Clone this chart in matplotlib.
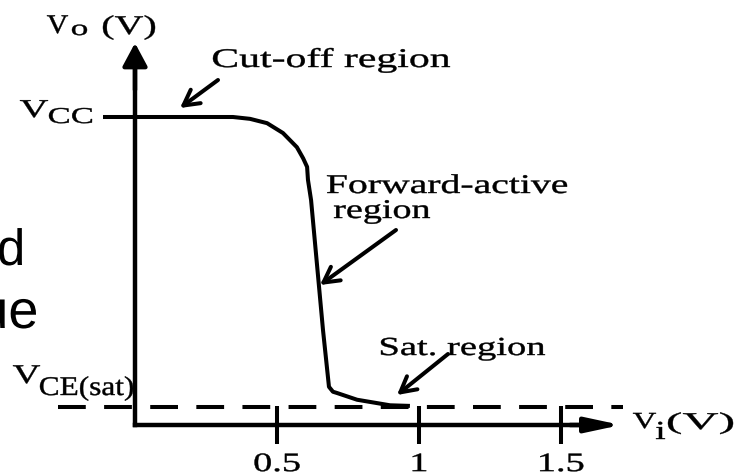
import matplotlib
matplotlib.use('Agg')
import matplotlib.pyplot as plt
from matplotlib.patheffects import AbstractPathEffect
from matplotlib.transforms import Affine2D
from matplotlib.textpath import TextPath
from matplotlib.font_manager import FontProperties

# ---------------- data ----------------
vi_volts = [0.0, 0.345, 0.405, 0.465, 0.521, 0.570, 0.592, 0.606, 0.609, 0.620,
            0.662, 0.683, 0.697, 0.711, 0.782, 0.898, 0.968]
vo_volts = [5.0, 5.0, 4.97, 4.90, 4.74, 4.51, 4.33, 4.19, 3.98, 3.65,
            1.54, 0.62, 0.54, 0.52, 0.41, 0.32, 0.31]
VCC = 5.0
VCE_SAT = 0.3
x_ticks = [0.5, 1.0, 1.5]
x_tick_labels = ['0.5', '1', '1.5']

# ---------------- layout ----------------
W, H = 734, 476
X0, Y0 = 135, 425          # origin in pixels
SX, SY = 284, 61.6         # pixels per volt
LW = 2.9
SERIF = 'Liberation Serif'
SANS = 'Liberation Sans'

plt.rcParams['lines.scale_dashes'] = False


class Stretch(AbstractPathEffect):
    """Horizontally widen glyph outlines (the source picture is stretched)."""
    def __init__(self, sx, align='left', bold=0.3):
        super().__init__()
        self.sx = sx
        self.align = align
        self.bold = bold

    def draw_path(self, renderer, gc, tpath, affine, rgbFace=None):
        ext = tpath.get_extents()
        if self.align == 'center':
            p = (ext.x0 + ext.x1) / 2
        elif self.align == 'right':
            p = ext.x1
        else:
            p = 0.0
        st = Affine2D().translate(-p, 0).scale(self.sx, 1).translate(p, 0)
        gc0 = renderer.new_gc()
        gc0.copy_properties(gc)
        if self.bold and rgbFace is not None:
            gc0.set_linewidth(self.bold)
            gc0.set_foreground(rgbFace)
        renderer.draw_path(gc0, tpath, st + affine, rgbFace)
        gc0.restore()


fig = plt.figure(figsize=(W / 100, H / 100), dpi=100)
ax = fig.add_axes([0, 0, 1, 1])
ax.set_xlim(-X0 / SX, (W - X0) / SX)
ax.set_ylim((Y0 - H) / SY, Y0 / SY)
PX = Affine2D().scale(1 / W, -1 / H).translate(0, 1) + fig.transFigure

# axes lines
for s in ['top', 'right']:
    ax.spines[s].set_visible(False)
for s in ['left', 'bottom']:
    ax.spines[s].set_position(('data', 0))
    ax.spines[s].set_linewidth(3.2)
    ax.spines[s].set_capstyle('projecting')
ax.spines['left'].set_bounds(0, (Y0 - 60) / SY)
ax.spines['bottom'].set_bounds(0, (590 - X0) / SX)

# arrow heads of the axes
ax.annotate('', xy=(X0, 43), xytext=(X0, 90), xycoords=PX, textcoords=PX,
            arrowprops=dict(arrowstyle='-|>,head_length=14,head_width=7.5',
                            mutation_scale=1, lw=3.2, color='k',
                            shrinkA=0, shrinkB=0))
ax.annotate('', xy=(621, Y0), xytext=(570, Y0), xycoords=PX, textcoords=PX,
            arrowprops=dict(arrowstyle='-|>,head_length=21,head_width=4.5',
                            mutation_scale=1, lw=3.2, color='k',
                            shrinkA=0, shrinkB=0))

# ticks
ax.set_xticks(x_ticks, x_tick_labels)
ax.set_yticks([VCC], [''])
ax.tick_params(axis='x', direction='inout', length=28, width=LW, pad=5.5,
               labelsize=26.6 * 0.72)
ax.tick_params(axis='y', direction='out', length=23, width=LW)
fp_serif = FontProperties(family=SERIF)
w05 = TextPath((0, 0), '0.5', size=26.6, prop=fp_serif).get_extents().width
for lbl in ax.get_xticklabels():
    lbl.set_family(SERIF)
    lbl.set_path_effects([Stretch(45 / w05, 'center')])

# VCE(sat) dashed line
ax.axhline(VCE_SAT, xmin=58 / W, xmax=623 / W, color='k', lw=LW,
           dashes=(20, 13.2), dash_capstyle='butt')

# transfer curve
ax.plot(vi_volts, vo_volts, color='k', lw=LW, solid_joinstyle='round',
        solid_capstyle='butt')

# region arrows
for start, tip in [((218, 80), (180, 108)),
                   ((396, 230), (320, 285)),
                   ((448, 354), (397, 395))]:
    ax.annotate('', xy=tip, xytext=start, xycoords=PX, textcoords=PX,
                arrowprops=dict(arrowstyle='->,head_length=11,head_width=6',
                                mutation_scale=1, lw=2.9, color='k',
                                shrinkA=0, shrinkB=0))


def put(s, x, base, size_px, width_px=None, sx=None, family=SERIF, right=False,
        bold=0.3):
    fp = FontProperties(family=family)
    ext = TextPath((0, 0), s, size=size_px, prop=fp).get_extents()
    if sx is None:
        sx = width_px / ext.width
    anchor = (x - ext.x1 * sx) if right else (x - ext.x0 * sx)
    ax.text(anchor, base, s, transform=PX, fontsize=size_px * 0.72,
            family=family, ha='left', va='baseline', color='k',
            path_effects=[Stretch(sx, 'left', bold)])


# serif labels: text, ink-left, baseline, size(px), ink width
serif_labels = [
    ('V', 47, 33, 27, 21),
    ('o', 72, 35, 22, 15),
    ('(V)', 103, 34, 27, 52),
    ('Cut-off region', 213, 67, 27, 237),
    ('V', 20, 117, 25.7, 28),
    ('CC', 49, 123, 22.7, 43),
    ('V', 13, 383, 27, 27),
    ('CE(sat)', 40, 395, 27, 93),
    ('Forward-active', 327, 193, 27, 240),
    ('region', 334, 218, 27, 96),
    ('Sat. region', 381, 355, 26, 164),
    ('V', 633, 428, 23, 23),
    ('i', 656, 439, 26, 9),
    ('(V)', 668, 429, 24, 65),
]
for s, x, b, sz, w in serif_labels:
    put(s, x, b, sz, width_px=w)

# fragments of slide text partly hidden at the left edge
put('d', 22, 265, 51, sx=1.0, family=SANS, right=True, bold=0)
put('ue', 36, 328, 54, sx=1.0, family=SANS, right=True, bold=0)

fig.savefig('out.png', dpi=100)
